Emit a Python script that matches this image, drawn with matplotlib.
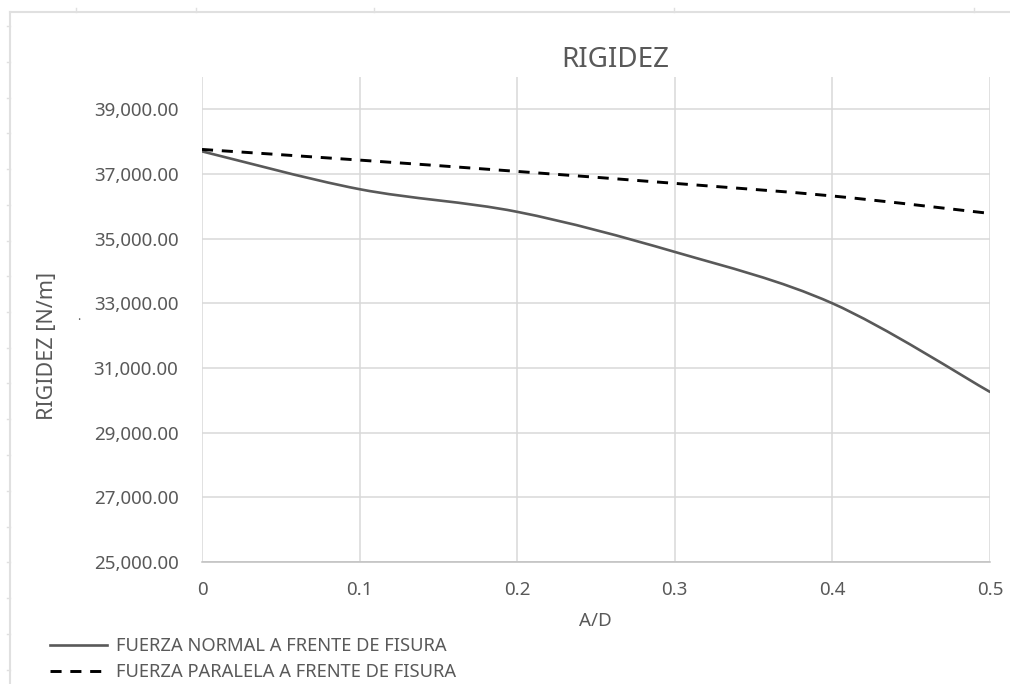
import matplotlib
matplotlib.use("Agg")
import matplotlib.pyplot as plt
from matplotlib.lines import Line2D
from matplotlib.path import Path
from matplotlib.patches import PathPatch
from matplotlib.ticker import FuncFormatter

# data
a_d = [0.0, 0.1, 0.2, 0.3, 0.4, 0.5]
rigidez_normal = [37700, 36530, 35830, 34590, 33000, 30260]
rigidez_paralela = [37760, 37430, 37080, 36710, 36320, 35780]
labels = ["FUERZA NORMAL A FRENTE DE FISURA", "FUERZA PARALELA A FRENTE DE FISURA"]
y_ticks = [25000, 27000, 29000, 31000, 33000, 35000, 37000, 39000]
x_ticks = [0, 0.1, 0.2, 0.3, 0.4, 0.5]

gray = "#595959"
grid_gray = "#d9d9d9"
plt.rcParams["font.family"] = ["Noto Sans", "DejaVu Sans"]


def smooth_path(xs, ys):
    # Excel-like smoothed line: cubic bezier segments through every point
    n = len(xs)
    verts = [(xs[0], ys[0])]
    codes = [Path.MOVETO]
    for i in range(n - 1):
        xp, yp = (xs[i - 1], ys[i - 1]) if i > 0 else (xs[i], ys[i])
        xn, yn = (xs[i + 2], ys[i + 2]) if i + 2 < n else (xs[i + 1], ys[i + 1])
        c1 = (xs[i] + (xs[i + 1] - xp) / 6, ys[i] + (ys[i + 1] - yp) / 6)
        c2 = (xs[i + 1] - (xn - xs[i]) / 6, ys[i + 1] - (yn - ys[i]) / 6)
        verts += [c1, c2, (xs[i + 1], ys[i + 1])]
        codes += [Path.CURVE4] * 3
    return Path(verts, codes)


W, H = 1010, 684
fig = plt.figure(figsize=(W / 100, H / 100), dpi=100)
ax = fig.add_axes([202 / W, (H - 562) / H, 788 / W, 485 / H])

solid_style = dict(color=gray, lw=1.9)
dash_style = dict(color="black", lw=2.1, linestyle=(0, (3.8, 3.0)))

ax.add_patch(PathPatch(smooth_path(a_d, rigidez_normal), fill=False,
                       capstyle="round", zorder=3, **solid_style))
ax.add_patch(PathPatch(smooth_path(a_d, rigidez_paralela), fill=False,
                       capstyle="butt", zorder=3, **dash_style))

ax.set_xlim(0, 0.5)
ax.set_ylim(25000, 40000)
ax.set_xticks(x_ticks)
ax.set_yticks(y_ticks)
ax.xaxis.set_major_formatter(FuncFormatter(lambda v, p: "%g" % v))
ax.yaxis.set_major_formatter(FuncFormatter(lambda v, p: "{:,.2f}".format(v)))
ax.tick_params(length=0, labelsize=13.5, labelcolor=gray)
ax.tick_params(axis="y", pad=17)
ax.tick_params(axis="x", pad=14)
ax.grid(True, color=grid_gray, lw=1.1)
ax.set_axisbelow(True)
for s in ["top", "right", "left"]:
    ax.spines[s].set_visible(False)
ax.spines["bottom"].set_color("#bfbfbf")
ax.spines["bottom"].set_linewidth(1.1)

fig.text(615 / W, 1 - 60 / H, "RIGIDEZ", ha="center", va="center",
         fontsize=20, color=gray, fontweight="light")
fig.text(595 / W, 1 - 621 / H, "A/D", ha="center", va="center",
         fontsize=13.5, color=gray)
fig.text(48 / W, 1 - 346 / H, "RIGIDEZ [N/m]", ha="center", va="center",
         rotation=90, fontsize=15.5, color=gray)
fig.text(79 / W, 1 - 316 / H, ".", ha="center", va="center", fontsize=9, color=gray)

handles = [Line2D([], [], **solid_style), Line2D([], [], **dash_style)]
fig.legend(handles, labels, loc="upper left", bbox_to_anchor=(50 / W, 1 - 637 / H),
           frameon=False, fontsize=13.2, labelcolor=gray, handlelength=3.1,
           handletextpad=0.5, labelspacing=0.45, borderpad=0, borderaxespad=0)

# worksheet frame around the chart
frame = "#e0e0e0"
fig.add_artist(Line2D([9.5 / W, 1], [1 - 12 / H, 1 - 12 / H], color=frame, lw=1.5))
fig.add_artist(Line2D([9.5 / W, 9.5 / W], [0, 1 - 12 / H], color=frame, lw=1.5))
for tx in [76, 196, 374, 674, 974]:
    fig.add_artist(Line2D([tx / W, tx / W], [1 - 8 / H, 1 - 12 / H], color=frame, lw=1))
for k in range(19):
    ty = 26 + 35.75 * k
    fig.add_artist(Line2D([7 / W, 9.5 / W], [1 - ty / H, 1 - ty / H], color=frame, lw=1))

fig.savefig("out.png", dpi=100)
